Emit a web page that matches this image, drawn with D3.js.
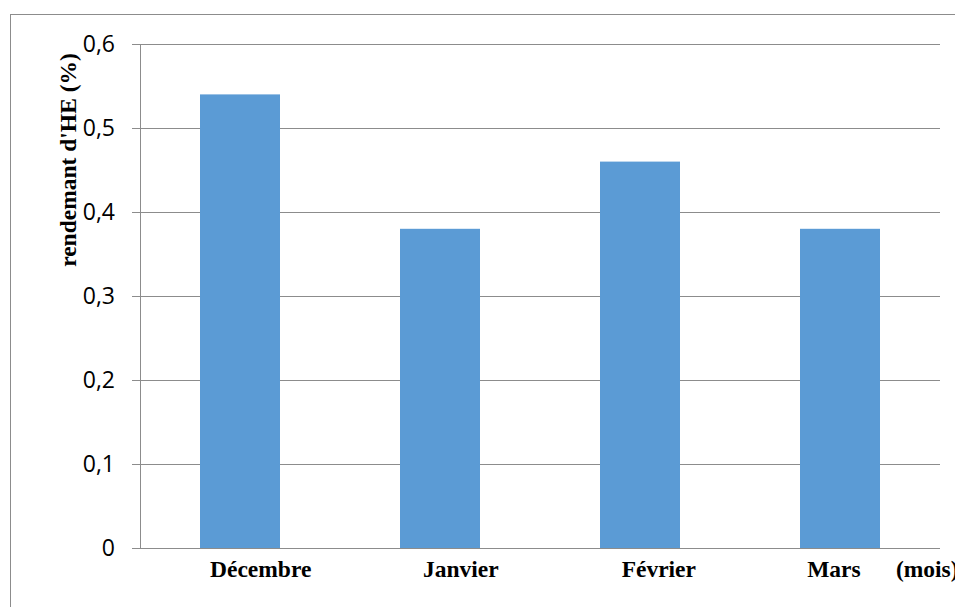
<!DOCTYPE html>
<html>
<head>
<meta charset="utf-8">
<script src="https://cdn.jsdelivr.net/npm/d3@7"></script>
<style>
  body { margin: 0; background: #fff; }
  svg { display: block; }
</style>
</head>
<body>
<svg></svg>
<script>
// rendement en huile essentielle par mois de récolte
const months = ["Décembre", "Janvier", "Février", "Mars"]
const yields = [0.54, 0.38, 0.46, 0.38]
const yTicks = [0, 0.1, 0.2, 0.3, 0.4, 0.5, 0.6]

const width = 955
const height = 607
const margin = { top: 44, right: 15, bottom: 59, left: 140 }

const svg = d3.select("svg")
    .attr("width", width)
    .attr("height", height)

// cadre du graphique (coupé à droite et en bas)
svg.append("rect")
  .attr("x", 10.5)
  .attr("y", 14.5)
  .attr("width", 960)
  .attr("height", 610)
  .attr("fill", "none")
  .attr("stroke", "#8c8c8c")

const x = d3.scaleBand()
  .domain(months)
  .range([margin.left, width - margin.right])
  .paddingInner(0.6)
  .paddingOuter(0.3)

const y = d3.scaleLinear()
  .domain([0, 0.6])
  .range([height - margin.bottom, margin.top])

const fmt = d => d === 0 ? "0" : d3.format(".1f")(d).replace(".", ",")

// grille + graduations
const yAxis = svg.append("g")
  .attr("transform", `translate(${margin.left},0)`)
  .call(d3.axisLeft(y)
    .tickValues(yTicks)
    .tickFormat(fmt)
    .tickSize(8)
    .tickPadding(17))

yAxis.select(".domain")
  .attr("stroke", "#8c8c8c")
  .attr("d", `M0.5,${y(0.6)}V${y(0)}`)

yAxis.selectAll(".tick line")
  .attr("stroke", "#8c8c8c")
  .attr("x2", width - margin.right - margin.left)
  .attr("x1", -8)

yAxis.selectAll(".tick text")
  .attr("fill", "#000")
  .attr("font-family", "'Open Sans', sans-serif")
  .attr("font-size", 23)

// barres
svg.append("g")
  .attr("fill", "#5b9bd5")
  .selectAll("rect")
  .data(months)
  .join("rect")
  .attr("x", d => x(d))
  .attr("y", (d, i) => y(yields[i]))
  .attr("width", x.bandwidth())
  .attr("height", (d, i) => y(0) - y(yields[i]))

// libellés des mois (zone de texte avec espaces, comme dans l'original)
const gaps = [19, 21, 19, 6]
const line = months.map((m, i) => m + " ".repeat(gaps[i])).join("") + "(mois)"
svg.append("text")
  .attr("x", x(months[0]) + 10)
  .attr("y", 577)
  .attr("font-family", "'Liberation Serif', 'Times New Roman', serif")
  .attr("font-weight", "bold")
  .attr("font-size", 23.5)
  .attr("fill", "#000")
  .style("white-space", "pre")
  .text(line)

// titre de l'axe y
svg.append("text")
  .attr("transform", "translate(76,160) rotate(-90)")
  .attr("text-anchor", "middle")
  .attr("font-family", "'Liberation Serif', 'Times New Roman', serif")
  .attr("font-weight", "bold")
  .attr("font-size", 23.5)
  .attr("fill", "#000")
  .text("rendemant d'HE (%)")
</script>
</body>
</html>
